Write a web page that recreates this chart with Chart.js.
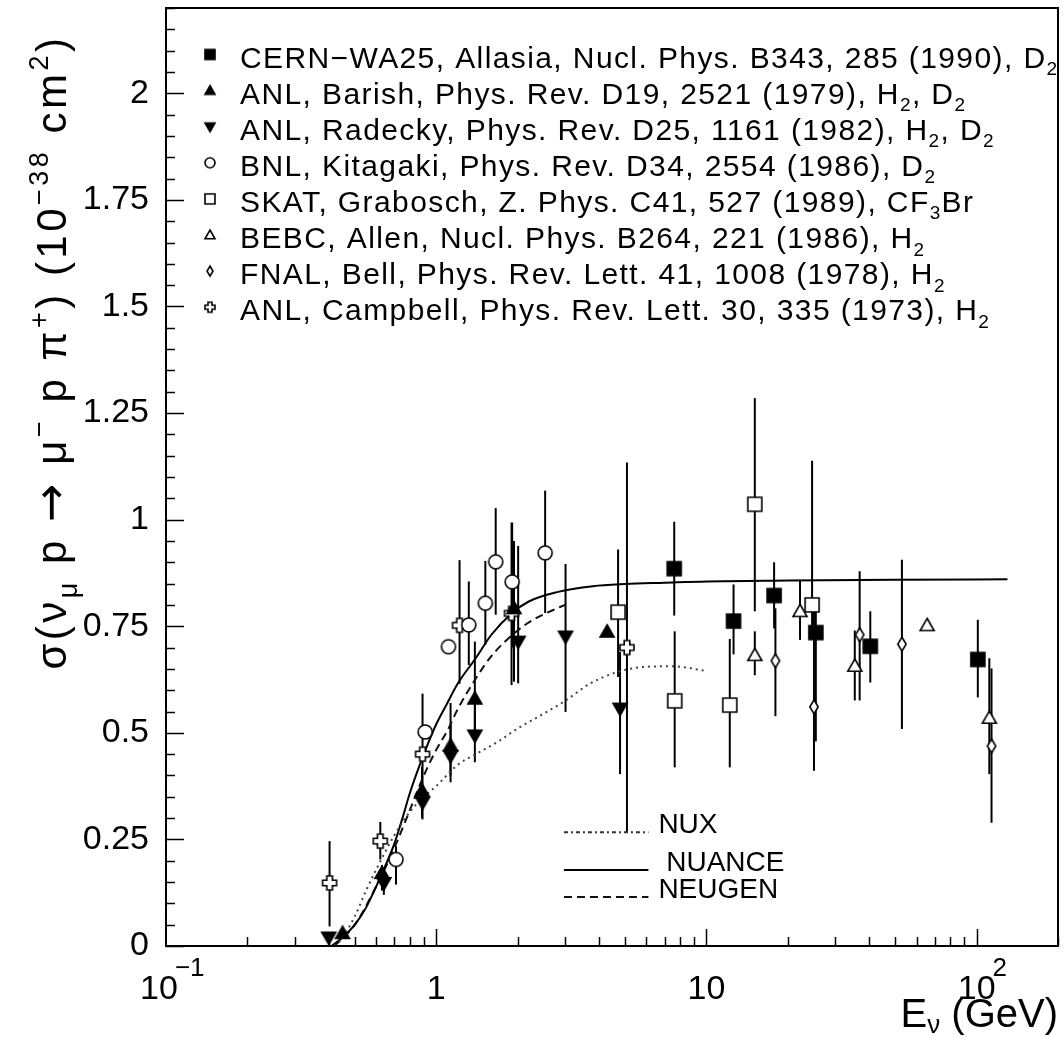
<!DOCTYPE html>
<html>
<head>
<meta charset="utf-8">
<script src="https://cdn.jsdelivr.net/npm/chart.js@4.4.0/dist/chart.umd.min.js"></script>
<style>
  html, body { margin: 0; padding: 0; background: #fff; overflow: hidden; }
  #wrap { width: 1063px; height: 1038px; }
</style>
</head>
<body>
<div id="wrap"><canvas id="xsec" width="1063" height="1038"></canvas></div>
<script>
// measurements: [E (GeV), sigma, sigma low, sigma high], null = no error bar
const cernWA25 = [[7.6, 0.885, 0.775, 0.995], [12.6, 0.762, 0.684, 0.848], [17.8, 0.822, 0.745, 0.900],
  [25.4, 0.735, 0.48, 0.808], [40.4, 0.703, 0.618, 0.785], [101, 0.672, 0.583, 0.765]];
const anlBarish = [[0.45, 0.03, null, null], [0.63, 0.171, 0.13, 0.19], [0.886, 0.364, 0.30, 0.42],
  [1.13, 0.47, 0.40, 0.57], [1.39, 0.58, 0.49, 0.714], [1.94, 0.792, 0.62, 0.95], [4.29, 0.737, null, null]];
const anlRadecky = [[0.40, 0.02, null, null], [0.64, 0.148, 0.12, 0.18], [0.89, 0.337, 0.297, 0.40],
  [1.13, 0.446, 0.384, 0.52], [1.39, 0.494, 0.431, 0.58], [2.01, 0.714, 0.616, 0.938],
  [3.01, 0.726, 0.549, 0.896], [4.79, 0.557, 0.403, 0.69]];
const bnlKitagaki = [[0.71, 0.203, 0.144, 0.234], [0.91, 0.502, null, null], [1.11, 0.702, null, null],
  [1.32, 0.753, 0.659, 0.855], [1.52, 0.804, 0.706, 0.903], [1.66, 0.901, 0.777, 1.027],
  [1.91, 0.854, 0.70, 0.993], [2.53, 0.922, 0.781, 1.068]];
const skatGrabosch = [[4.71, 0.783, 0.631, 0.930], [7.63, 0.575, 0.419, 0.738], [12.2, 0.565, 0.419, 0.720],
  [15.1, 1.036, 0.785, 1.285], [24.6, 0.80, 0.74, 1.138]];
const bebcAllen = [[15.1, 0.682, 0.635, 0.738], [22.2, 0.785, 0.718, 0.859], [35.4, 0.657, 0.576, 0.74],
  [65.6, 0.752, null, null], [111.4, 0.535, 0.403, 0.675]];
const fnalBell = [[18.0, 0.669, 0.539, 0.792], [25.0, 0.561, 0.411, 0.800], [36.9, 0.73, 0.576, 0.879],
  [52.9, 0.708, 0.509, 0.906], [113.5, 0.469, 0.289, 0.651]];
const anlCampbell = [[0.403, 0.148, 0.046, 0.246], [0.621, 0.246, 0.203, 0.291], [0.89, 0.45, 0.40, 0.592],
  [1.22, 0.752, 0.615, 0.905], [1.90, 0.78, 0.612, 0.993], [5.08, 0.700, 0.267, 1.134]];

// model curves
const nuxE = [0.42, 0.45, 0.5, 0.55, 0.6, 0.7, 0.8, 0.9, 1.0, 1.2, 1.4, 1.7, 2.0, 2.5, 3.0, 3.7, 4.7, 6, 7.5, 10];
const nuxSig = [0, 0.02, 0.07, 0.13, 0.18, 0.26, 0.315, 0.35, 0.375, 0.425, 0.45, 0.48, 0.51, 0.545, 0.575, 0.615, 0.643, 0.655, 0.656, 0.645];
const nuanceE = [0.41, 0.45, 0.5, 0.55, 0.6, 0.65, 0.7, 0.75, 0.8, 0.9, 1.0, 1.1, 1.2, 1.4, 1.6, 1.9, 2.2, 2.8, 3.8, 5, 7, 10, 20, 50, 130];
const nuanceSig = [0, 0.02, 0.05, 0.09, 0.14, 0.19, 0.24, 0.30, 0.36, 0.45, 0.52, 0.57, 0.615, 0.675, 0.73, 0.78, 0.808, 0.83, 0.844, 0.849, 0.852, 0.855, 0.857, 0.859, 0.86];
const neugenE = [0.42, 0.5, 0.6, 0.7, 0.8, 0.9, 1.0, 1.1, 1.2, 1.4, 1.6, 2.0, 2.3, 2.8, 3.0];
const neugenSig = [0, 0.05, 0.14, 0.23, 0.32, 0.40, 0.46, 0.505, 0.555, 0.627, 0.68, 0.74, 0.766, 0.792, 0.80];

const yTickValues = [0, 0.25, 0.5, 0.75, 1, 1.25, 1.5, 1.75, 2];
const yTickLabels = ['0', '0.25', '0.5', '0.75', '1', '1.25', '1.5', '1.75', '2'];
const xTickValues = [0.1, 1, 10, 100];
const xTickLabels = [['10', '\u22121'], ['1', ''], ['10', ''], ['10', '2']];

const legendLabels = [
  [{ t: 'CERN\u2212WA25, Allasia, Nucl. Phys. B343, 285 (1990), D' }, { t: '2', sub: true }],
  [{ t: 'ANL, Barish, Phys. Rev. D19, 2521 (1979), H' }, { t: '2', sub: true }, { t: ', D' }, { t: '2', sub: true }],
  [{ t: 'ANL, Radecky, Phys. Rev. D25, 1161 (1982), H' }, { t: '2', sub: true }, { t: ', D' }, { t: '2', sub: true }],
  [{ t: 'BNL, Kitagaki, Phys. Rev. D34, 2554 (1986), D' }, { t: '2', sub: true }],
  [{ t: 'SKAT, Grabosch, Z. Phys. C41, 527 (1989), CF' }, { t: '3', sub: true }, { t: 'Br' }],
  [{ t: 'BEBC, Allen, Nucl. Phys. B264, 221 (1986), H' }, { t: '2', sub: true }],
  [{ t: 'FNAL, Bell, Phys. Rev. Lett. 41, 1008 (1978), H' }, { t: '2', sub: true }],
  [{ t: 'ANL, Campbell, Phys. Rev. Lett. 30, 335 (1973), H' }, { t: '2', sub: true }]
];
const curveNames = ['NUX', 'NUANCE', 'NEUGEN'];

const FONT = '"Liberation Sans", "DejaVu Sans", sans-serif';

// marker images (ROOT style)
function marker(kind, s) {
  const c = document.createElement('canvas');
  c.width = c.height = s + 6;
  const g = c.getContext('2d');
  g.translate(c.width / 2, c.height / 2);
  g.lineWidth = 1.6;
  g.strokeStyle = '#000';
  const h = s / 2;
  g.beginPath();
  if (kind === 'square') g.rect(-h, -h, s, s);
  if (kind === 'up') { g.moveTo(0, -h); g.lineTo(h, h * 0.75); g.lineTo(-h, h * 0.75); g.closePath(); }
  if (kind === 'down') { g.moveTo(0, h); g.lineTo(h, -h * 0.75); g.lineTo(-h, -h * 0.75); g.closePath(); }
  if (kind === 'circle') g.arc(0, 0, h, 0, Math.PI * 2);
  if (kind === 'diamond') { g.moveTo(0, -h); g.lineTo(h * 0.6, 0); g.lineTo(0, h); g.lineTo(-h * 0.6, 0); g.closePath(); }
  if (kind === 'cross') {
    const a = s * 0.2;
    const pts = [[-a, -h], [a, -h], [a, -a], [h, -a], [h, a], [a, a], [a, h], [-a, h], [-a, a], [-h, a], [-h, -a], [-a, -a]];
    pts.forEach((p, i) => i ? g.lineTo(p[0], p[1]) : g.moveTo(p[0], p[1]));
    g.closePath();
  }
  return c;
}
function styled(kind, s, filled) {
  const c = marker(kind, s);
  const g = c.getContext('2d');
  g.fillStyle = filled ? '#000' : '#fff';
  g.fill();
  g.stroke();
  return c;
}

const series = [
  { rows: cernWA25, kind: 'square', filled: true },
  { rows: anlBarish, kind: 'up', filled: true },
  { rows: anlRadecky, kind: 'down', filled: true },
  { rows: bnlKitagaki, kind: 'circle', filled: false },
  { rows: skatGrabosch, kind: 'square', filled: false },
  { rows: bebcAllen, kind: 'up', filled: false },
  { rows: fnalBell, kind: 'diamond', filled: false },
  { rows: anlCampbell, kind: 'cross', filled: false }
];

function curve(es, sigs, dash, color) {
  return {
    data: es.map((e, i) => ({ x: e, y: sigs[i] })),
    showLine: true, pointRadius: 0, borderWidth: 2, borderColor: color,
    borderDash: dash, cubicInterpolationMode: 'monotone', order: 10
  };
}

const datasets = [
  curve(nuxE, nuxSig, [2, 4], '#444'),
  curve(nuanceE, nuanceSig, [], '#000'),
  curve(neugenE, neugenSig, [8, 5], '#111')
];
series.forEach(s => {
  datasets.push({
    data: s.rows.map(r => ({ x: r[0], y: r[1] })),
    errors: s.rows,
    pointStyle: styled(s.kind, 14, s.filled),
    order: 0
  });
});

function drawRich(ctx, segs, x, y, size, measureOnly) {
  let w = 0;
  segs.forEach(s => {
    let fs = (s.sub || s.sup) ? Math.round(size * 0.64) : size;
    if (s.scale) fs = Math.round(size * s.scale);
    ctx.font = fs + 'px ' + (s.family || FONT);
    let dy = s.sub ? size * 0.25 : (s.sup ? -size * 0.42 : 0);
    if (s.dy != null) dy = size * s.dy;
    if (!measureOnly) ctx.fillText(s.t, x + w, y + dy);
    w += ctx.measureText(s.t).width;
  });
  return w;
}

const errorBars = {
  id: 'errorBars',
  beforeDatasetsDraw(chart) {
    const { ctx, scales: { x, y } } = chart;
    ctx.save();
    ctx.strokeStyle = '#000';
    ctx.lineWidth = 2;
    chart.data.datasets.forEach(ds => {
      if (!ds.errors) return;
      ds.errors.forEach(r => {
        if (r[2] == null) return;
        const px = x.getPixelForValue(r[0]);
        ctx.beginPath();
        ctx.moveTo(px, y.getPixelForValue(r[2]));
        ctx.lineTo(px, y.getPixelForValue(r[3]));
        ctx.stroke();
      });
    });
    ctx.restore();
  }
};

const frame = {
  id: 'frame',
  afterDraw(chart) {
    const { ctx, chartArea: a, scales: { x, y } } = chart;
    ctx.save();
    ctx.strokeStyle = '#000';
    ctx.fillStyle = '#000';
    ctx.lineWidth = 2;
    ctx.strokeRect(a.left, a.top, a.right - a.left, a.bottom - a.top);

    // y ticks (inward), minor every 0.05
    ctx.lineWidth = 1.5;
    for (let i = 0; i <= 44; i++) {
      const py = Math.round(y.getPixelForValue(i * 0.05)) + 0.5;
      const len = i % 5 === 0 ? 18 : 9;
      ctx.beginPath(); ctx.moveTo(a.left, py); ctx.lineTo(a.left + len, py); ctx.stroke();
    }
    // x ticks
    for (let d = 0.1; d < 1000; d *= 10) {
      for (let m = 1; m <= 9; m++) {
        const v = d * m;
        if (v > 200 || v <= 0.1) continue;
        const px = Math.round(x.getPixelForValue(v)) + 0.5;
        const len = m === 1 ? 17 : 9;
        ctx.beginPath(); ctx.moveTo(px, a.bottom); ctx.lineTo(px, a.bottom - len); ctx.stroke();
      }
    }

    // y tick labels
    ctx.font = '34px ' + FONT;
    ctx.textAlign = 'right';
    ctx.textBaseline = 'middle';
    yTickValues.forEach((v, i) => ctx.fillText(yTickLabels[i], 149, y.getPixelForValue(v)));

    // x tick labels
    ctx.textAlign = 'left';
    ctx.textBaseline = 'alphabetic';
    xTickValues.forEach((v, i) => {
      const px = x.getPixelForValue(v);
      ctx.font = '34px ' + FONT;
      const w = ctx.measureText(xTickLabels[i][0]).width;
      const shift = xTickLabels[i][1] === '\u22121' ? -7 : 0;
      ctx.fillText(xTickLabels[i][0], px - w / 2 + shift, 999);
      if (xTickLabels[i][1]) {
        ctx.font = '26px ' + FONT;
        ctx.fillText(xTickLabels[i][1], px + w / 2 + shift - 3, 976);
      }
    });

    // x title
    const xt = [{ t: 'E' }, { t: '\u03bd', sub: true, dy: 0.16 }, { t: ' (GeV)' }];
    const xw = drawRich(ctx, xt, 0, 0, 40, true);
    drawRich(ctx, xt, 1058 - xw, 1027, 40);

    // y title (rotated)
    const yt = [{ t: '\u03c3' }, { t: '(' }, { t: '\u03bd' }, { t: '\u03bc', sub: true }, { t: ' p ' },
      { t: '\u2192', family: '"DejaVu Sans", sans-serif', scale: 1.1 },
      { t: ' \u03bc' }, { t: '\u2212', sup: true }, { t: ' p ' }, { t: '\u03c0' }, { t: '+', sup: true }, { t: ') (10' },
      { t: '\u221238', sup: true }, { t: ' cm' }, { t: '2', sup: true }, { t: ')' }];
    ctx.save();
    ctx.translate(66, 352);
    ctx.rotate(-Math.PI / 2);
    ctx.letterSpacing = '3.5px';
    const yw = drawRich(ctx, yt, 0, 0, 42, true);
    drawRich(ctx, yt, -yw / 2, 0, 42);
    ctx.restore();

    // data legend
    ctx.letterSpacing = '1.4px';
    legendLabels.forEach((segs, i) => {
      const base = 67.5 + 36.1 * i;
      const m = styled(series[i].kind, 10, series[i].filled);
      ctx.drawImage(m, 210 - m.width / 2, base - 13 - m.height / 2);
      drawRich(ctx, segs, 240, base, 30);
    });
    ctx.letterSpacing = '0px';

    // model legend
    const styles = [{ dash: [4, 3, 2, 3], color: '#333' }, { dash: [], color: '#000' }, { dash: [8, 5], color: '#111' }];
    const lineY = [0.267, 0.178, 0.115];
    ctx.font = '28px ' + FONT;
    curveNames.forEach((name, i) => {
      const py = y.getPixelForValue(lineY[i]);
      ctx.setLineDash(styles[i].dash);
      ctx.strokeStyle = styles[i].color;
      ctx.lineWidth = 2;
      ctx.beginPath();
      ctx.moveTo(x.getPixelForValue(2.97), py);
      ctx.lineTo(x.getPixelForValue(6.1), py);
      ctx.stroke();
      ctx.setLineDash([]);
      ctx.fillText(name, x.getPixelForValue(name === 'NUANCE' ? 7.1 : 6.64), py + 1);
    });
    ctx.restore();
  }
};

new Chart(document.getElementById('xsec'), {
  type: 'scatter',
  data: { datasets: datasets },
  options: {
    responsive: false,
    animation: false,
    devicePixelRatio: 1,
    layout: { padding: { left: 166, top: 8, right: 1, bottom: 92 } },
    plugins: { legend: { display: false }, tooltip: { enabled: false } },
    scales: {
      x: { type: 'logarithmic', min: 0.1, max: 200, display: false },
      y: { type: 'linear', min: 0, max: 2.2, display: false }
    }
  },
  plugins: [errorBars, frame]
});
</script>
</body>
</html>
